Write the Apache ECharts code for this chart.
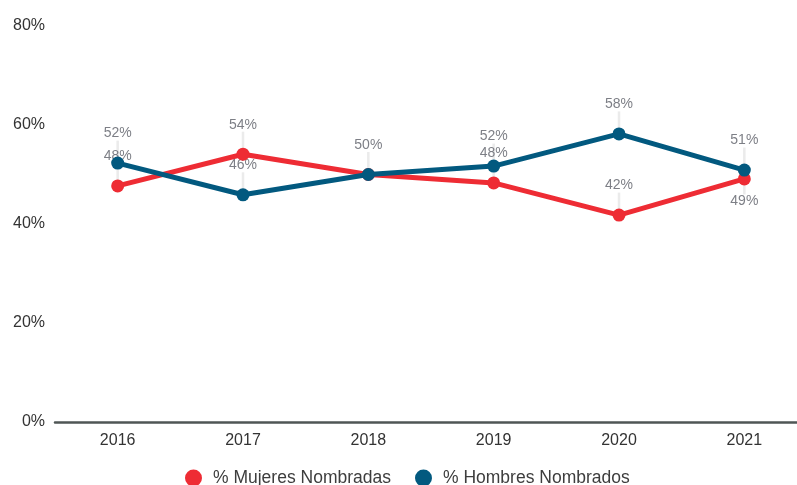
<!DOCTYPE html>
<html>
<head>
<meta charset="utf-8">
<style>
  html, body { margin: 0; padding: 0; background: #ffffff; overflow: hidden; }
  #chart { width: 810px; height: 485px; }
</style>
<script src="https://cdn.jsdelivr.net/npm/echarts@6/dist/echarts.min.js"></script>
</head>
<body>
<div id="chart"></div>
<script>
// Yearly share of appointments by gender (percent)
const years = ['2016', '2017', '2018', '2019', '2020', '2021'];
const mujeres = [47.7, 54.1, 50.0, 48.3, 41.8, 49.1];
const hombres = [52.3, 45.9, 50.0, 51.7, 58.2, 50.9];
const yTicks = [0, 20, 40, 60, 80];

const FONT = '"Liberation Sans", Arial, sans-serif';
const RED = '#ee2c34';
const BLUE = '#02597f';
const NAME_M = '% Mujeres Nombradas';
const NAME_H = '% Hombres Nombrados';

const chart = echarts.init(document.getElementById('chart'), null, { renderer: 'canvas' });

// Visible lines with their markers
function lineSeries(name, values, color, z) {
  return {
    name: name,
    type: 'line',
    data: values,
    z: z,
    symbol: 'circle',
    symbolSize: 13,
    lineStyle: { color: color, width: 5 },
    itemStyle: { color: color },
    label: { show: false },
    emphasis: { disabled: true }
  };
}

// Value labels with short guide lines, drawn underneath the lines.
// belowIdx: points whose label goes under the marker; hiddenIdx: labels
// that would sit exactly on another one.
function labelSeries(name, values, belowIdx, hiddenIdx) {
  return {
    name: name,
    type: 'line',
    z: 1,
    silent: true,
    data: values.map((v, i) => ({
      value: v,
      label: {
        show: !hiddenIdx.includes(i),
        position: belowIdx.includes(i) ? 'bottom' : 'top'
      }
    })),
    symbol: 'circle',
    symbolSize: 1,
    itemStyle: { color: 'rgba(0,0,0,0)' },
    lineStyle: { width: 0, opacity: 0 },
    label: {
      distance: 6,
      color: '#7d7f86',
      fontSize: 14,
      fontFamily: FONT,
      formatter: p => Math.round(p.value) + '%'
    },
    labelLayout: p => ({ dy: belowIdx.includes(p.dataIndex) ? 9 : -16 }),
    labelLine: {
      show: true,
      showAbove: false,
      lineStyle: { color: '#ebebeb', width: 2.5 }
    },
    emphasis: { disabled: true }
  };
}

chart.setOption({
  backgroundColor: '#ffffff',
  animation: false,
  textStyle: { fontFamily: FONT },
  grid: { left: 55, right: 3, top: 26, bottom: 63, containLabel: false },
  legend: {
    top: 469,
    left: 185,
    padding: 0,
    icon: 'circle',
    itemWidth: 17,
    itemHeight: 17,
    itemGap: 24,
    textStyle: {
      fontSize: 17.5,
      color: '#3d3d3d',
      fontFamily: FONT,
      padding: [0, 0, 0, 6]
    },
    data: [NAME_M, NAME_H]
  },
  xAxis: {
    type: 'category',
    data: years,
    boundaryGap: true,
    axisLine: { show: true, lineStyle: { color: '#4f5655', width: 2.5 } },
    axisTick: { show: false },
    axisLabel: { fontSize: 16, color: '#333333', margin: 11, fontFamily: FONT }
  },
  yAxis: {
    type: 'value',
    min: yTicks[0],
    max: yTicks[yTicks.length - 1],
    interval: 20,
    splitLine: { show: false },
    axisLine: { show: false },
    axisTick: { show: false },
    axisLabel: {
      fontSize: 16,
      color: '#333333',
      margin: 10,
      fontFamily: FONT,
      formatter: v => v + '%'
    }
  },
  series: [
    labelSeries('lbl-m', mujeres, [5], [2]),
    labelSeries('lbl-h', hombres, [], []),
    lineSeries(NAME_M, mujeres, RED, 2),
    lineSeries(NAME_H, hombres, BLUE, 3)
  ]
});
</script>
</body>
</html>
